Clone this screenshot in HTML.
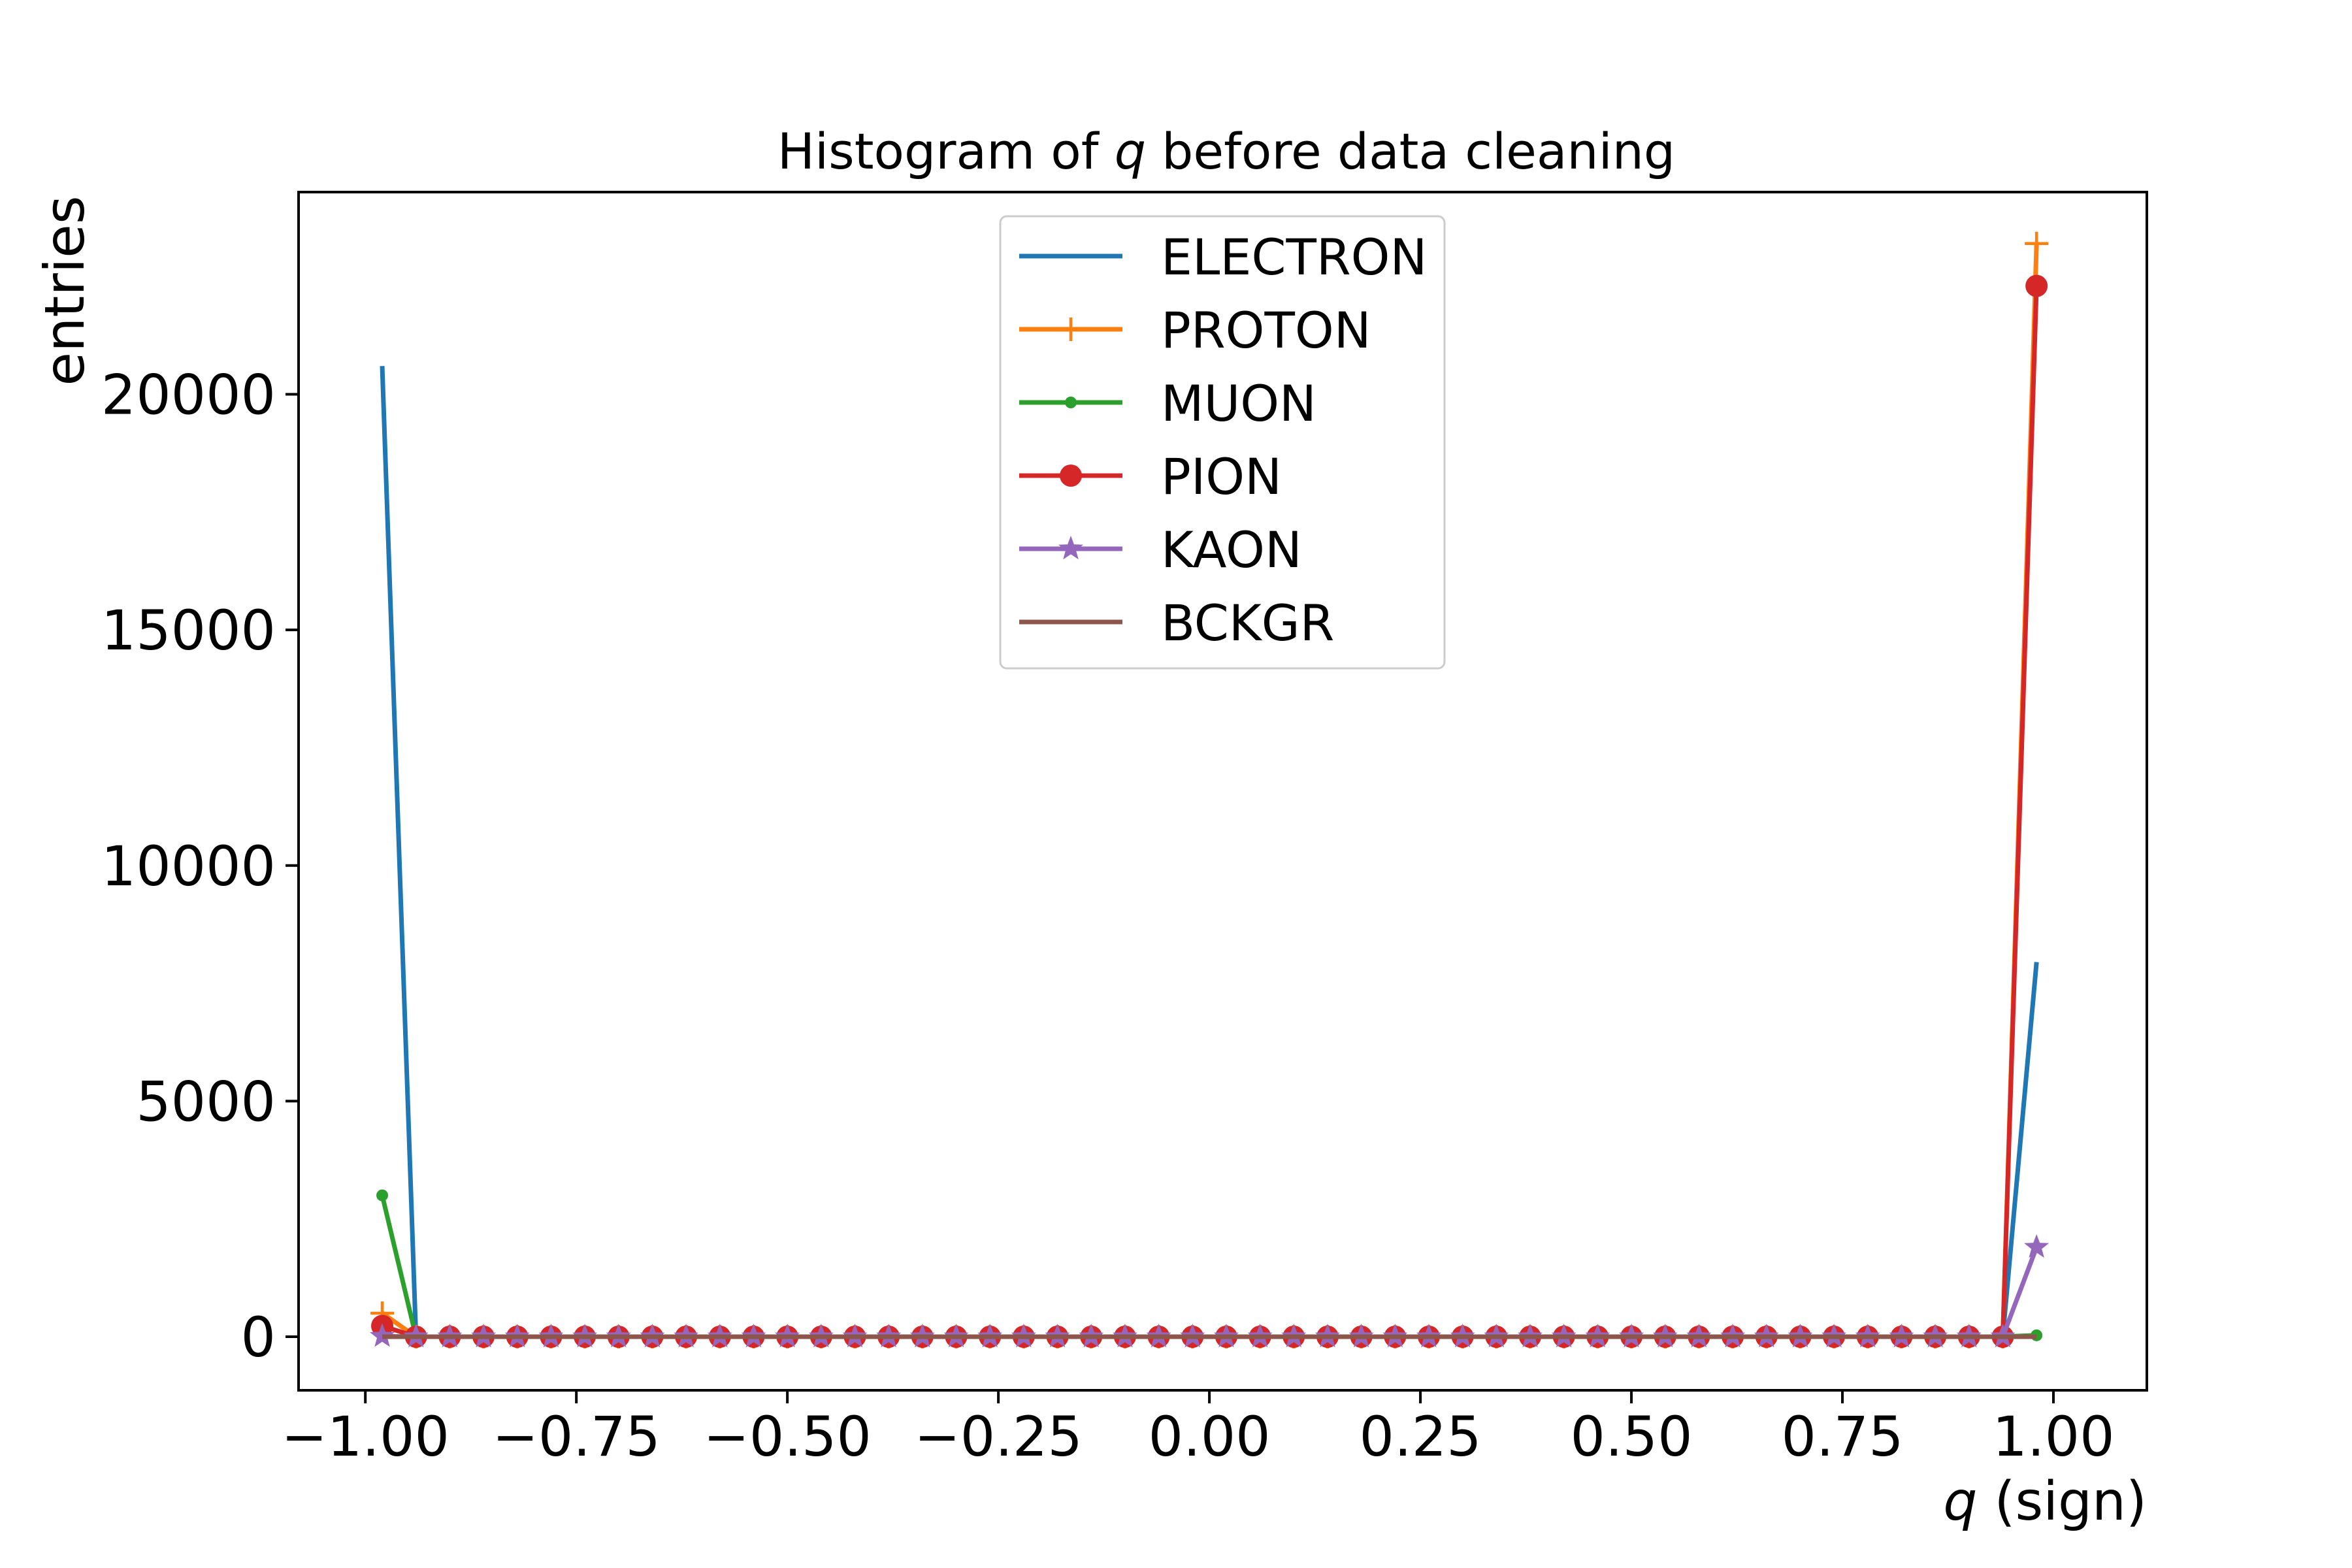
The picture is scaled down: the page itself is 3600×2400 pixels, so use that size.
<!DOCTYPE html>
<html><head><meta charset="utf-8"><style>
html,body{margin:0;padding:0;background:#fff;}
svg{display:block;font-family:"DejaVu Sans","Liberation Sans",sans-serif;}
</style></head><body>
<svg id="chart" width="3600" height="2400" viewBox="0 0 3600 2400" xmlns="http://www.w3.org/2000/svg">
<rect width="3600" height="2400" fill="#fff"/>
<text x="1877" y="258" font-size="76" text-anchor="middle">Histogram of <tspan font-style="italic">q</tspan> before data cleaning</text>
<g id="plot"></g>
<rect x="457" y="294" width="2829" height="1834" fill="none" stroke="#000" stroke-width="4"/>
<text transform="translate(128,445) rotate(-90)" font-size="84" text-anchor="middle">entries</text>
<text x="3286" y="2326" font-size="82" text-anchor="end"><tspan font-style="italic">q</tspan> (sign)</text>
<g id="legend"></g>
</svg>
<script>
const categories = [-0.98,-0.94,-0.90,-0.86,-0.82,-0.78,-0.74,-0.70,-0.66,-0.62,-0.58,-0.54,-0.50,-0.46,-0.42,-0.38,-0.34,-0.30,-0.26,-0.22,-0.18,-0.14,-0.10,-0.06,-0.02,0.02,0.06,0.10,0.14,0.18,0.22,0.26,0.30,0.34,0.38,0.42,0.46,0.50,0.54,0.58,0.62,0.66,0.70,0.74,0.78,0.82,0.86,0.90,0.94,0.98];
const seriesNames = ["ELECTRON","PROTON","MUON","PION","KAON","BCKGR"];
function edges(a,b){const v=new Array(50).fill(0);v[0]=a;v[49]=b;return v;}
const electron = edges(20600, 7950);
const proton = edges(500, 23200);
const muon = edges(3000, 30);
const pion = edges(230, 22300);
const kaon = edges(10, 1900);
const bckgr = edges(0, 0);
const xTicks = [-1.0,-0.75,-0.5,-0.25,0,0.25,0.5,0.75,1.0];
const xTickLabels = ["\u22121.00","\u22120.75","\u22120.50","\u22120.25","0.00","0.25","0.50","0.75","1.00"];
const yTicks = [0,5000,10000,15000,20000];
const yTickLabels = ["0","5000","10000","15000","20000"];

const NS="http://www.w3.org/2000/svg";
const X0=457,X1=3286,Y0=294,Y1=2128;
function xs(v){return 559.2+(v+1)*(3143-559.2)/2;}
function ys(v){return 2046-v*(2046-603.5)/20000;}
function mk(tag,attrs,parent){const e=document.createElementNS(NS,tag);for(const k in attrs)e.setAttribute(k,attrs[k]);parent.appendChild(e);return e;}
const plot=document.getElementById('plot');
const svg=document.getElementById('chart');

xTicks.forEach((t,i)=>{
  const l=mk('line',{x1:xs(t),x2:xs(t),y1:Y1,y2:Y1+20,stroke:'#000','stroke-width':4},svg);
  
  
  const tx=mk('text',{x:xs(t),y:Y1+100,'font-size':84,'text-anchor':'middle'},svg);
  tx.textContent=xTickLabels[i];
  
  
});
yTicks.forEach((t,i)=>{
  const l=mk('line',{x1:X0-20,x2:X0,y1:ys(t),y2:ys(t),stroke:'#000','stroke-width':4},svg);
  
  
  const tx=mk('text',{x:X0-35,y:ys(t)+30,'font-size':84,'text-anchor':'end'},svg);
  tx.textContent=yTickLabels[i];
  
  
});

const colors=["#1f77b4","#ff7f0e","#2ca02c","#d62728","#9467bd","#8c564b"];
const markers=[null,"plus","point","circle","star",null];
const data=[electron,proton,muon,pion,kaon,bckgr];

function starPath(cx,cy,r){let d="";for(let i=0;i<10;i++){const a=-Math.PI/2+i*Math.PI/5;const rr=i%2?r*0.42:r;d+=(i?"L":"M")+(cx+rr*Math.cos(a)).toFixed(1)+","+(cy+rr*Math.sin(a)).toFixed(1);}return d+"Z";}
function drawMarker(type,cx,cy,c,parent){
  if(type==="plus"){mk('path',{d:`M${cx-18},${cy}H${cx+18}M${cx},${cy-18}V${cy+18}`,stroke:c,'stroke-width':4.5,fill:'none'},parent);}
  else if(type==="point"){mk('circle',{cx:cx,cy:cy,r:9,fill:c},parent);}
  else if(type==="circle"){mk('circle',{cx:cx,cy:cy,r:17,fill:c},parent);}
  else if(type==="star"){mk('path',{d:starPath(cx,cy,20),fill:c},parent);}
}
data.forEach((vals,si)=>{
  const g=mk('g',{},plot);
  
  
  const pts=vals.map((v,i)=>xs(categories[i]).toFixed(1)+","+ys(v).toFixed(1)).join(" ");
  const pl=mk('polyline',{points:pts,fill:'none',stroke:colors[si],'stroke-width':7,'stroke-linejoin':'round'},g);
  
  
  if(markers[si]) vals.forEach((v,i)=>drawMarker(markers[si],xs(categories[i]),ys(v),colors[si],g));
});

const lg=document.getElementById('legend');
const box=mk('rect',{x:1531,y:331,width:680,height:692,rx:10,fill:'#fff','fill-opacity':0.8,stroke:'#ccc','stroke-width':3},lg);


seriesNames.forEach((n,i)=>{
  const y=392+i*112;
  const g=mk('g',{},lg);
  
  
  mk('line',{x1:1560,x2:1718,y1:y,y2:y,stroke:colors[i],'stroke-width':7},g);
  if(markers[i]) drawMarker(markers[i],1639,y,colors[i],g);
  const t=mk('text',{x:1777,y:y+28,'font-size':76},g);
  t.textContent=n;
});
</script>
</body></html>
